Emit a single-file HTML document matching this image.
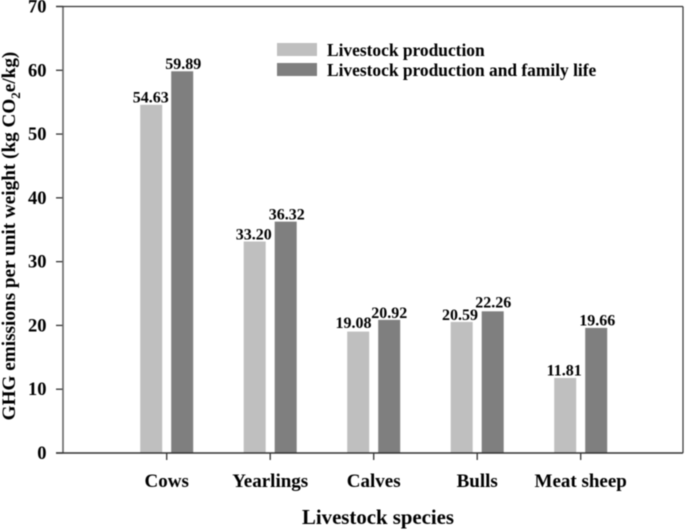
<!DOCTYPE html>
<html>
<head>
<meta charset="utf-8">
<title>GHG emissions per unit weight</title>
<style>
html,body{margin:0;padding:0;background:#fff;}
svg{display:block;filter:blur(0.4px);}
text{font-family:"Liberation Serif",serif;font-weight:bold;fill:#000;}
</style>
</head>
<body>
<svg id="chart" width="685" height="531" viewBox="0 0 685 531" xmlns="http://www.w3.org/2000/svg"></svg>
<script>
const categories = ["Cows", "Yearlings", "Calves", "Bulls", "Meat sheep"];
const productionValues = [54.63, 33.20, 19.08, 20.59, 11.81];
const familyLifeValues = [59.89, 36.32, 20.92, 22.26, 19.66];
const yTicks = [0, 10, 20, 30, 40, 50, 60, 70];
const seriesNames = ["Livestock production", "Livestock production and family life"];

const NS = "http://www.w3.org/2000/svg";
const svg = document.getElementById("chart");
const left = 63, right = 683, top_ = 6.5, bottom = 453;
const yMax = 70;
const firstCat = 166.7, catStep = 103.5;
const barW = 22, barOffset = 15.5, barTopNudge = 0.3;
const lightColor = "#bfbfbf", darkColor = "#7f7f7f";

function yScale(v) { return bottom - (v / yMax) * (bottom - top_); }
function xScale(i) { return firstCat + i * catStep; }
function make(tag, attrs, text) {
  const el = document.createElementNS(NS, tag);
  for (const k in attrs) el.setAttribute(k, attrs[k]);
  if (text !== undefined) el.textContent = text;
  svg.appendChild(el);
  return el;
}
function labelNudge(series, i) {
  if (series === 0) {
    return {dx: [-0.5, -1, -4.7, -1.7, -1][i], dy: [2.5, 2, 3.6, 2, 2.5][i]};
  }
  return {dx: [1, 1, 0, 0.6, 1][i], dy: [2.5, 2, 2, 4, 2.5][i]};
}

categories.forEach(function (c, i) {
  const key = c.toLowerCase().replace(/\s+/g, "-");
  const cx = xScale(i);
  const pv = productionValues[i], fv = familyLifeValues[i];
  const pTop = yScale(pv) + barTopNudge, fTop = yScale(fv) + barTopNudge;
  const pn = labelNudge(0, i), fn = labelNudge(1, i);

  const b1 = make("rect", {x: cx - barOffset - barW / 2, y: pTop, width: barW, height: bottom - pTop, fill: lightColor});
  
  

  const b2 = make("rect", {x: cx + barOffset - barW / 2, y: fTop, width: barW, height: bottom - fTop, fill: darkColor});
  
  

  const l1 = make("text", {x: cx - barOffset + pn.dx, y: pTop - pn.dy, "text-anchor": "middle", "font-size": 16}, pv.toFixed(2));
  
  

  const l2 = make("text", {x: cx + barOffset + fn.dx, y: fTop - fn.dy, "text-anchor": "middle", "font-size": 16}, fv.toFixed(2));
  
  

  const t = make("line", {x1: cx, x2: cx, y1: bottom, y2: bottom + 7, stroke: "#333", "stroke-width": 1.3});
  
  

  const tl = make("text", {x: cx, y: 487, "text-anchor": "middle", "font-size": 19}, c);
  
  
});

yTicks.forEach(function (v) {
  const y = yScale(v);
  const t = make("line", {x1: left - 7, x2: left, y1: y, y2: y, stroke: "#333", "stroke-width": 1.3});
  
  

  const tl = make("text", {x: 46.5, y: y + 6, "text-anchor": "end", "font-size": 18.5}, String(v));
  
  
});

const axisLeft = make("line", {x1: left, x2: left, y1: top_, y2: bottom, stroke: "#666", "stroke-width": 1.6});


const axisBottom = make("line", {x1: left - 7, x2: right, y1: bottom, y2: bottom, stroke: "#333", "stroke-width": 1.4});


const axisTop = make("line", {x1: left - 7, x2: right, y1: top_, y2: top_, stroke: "#333", "stroke-width": 1.2});


const axisRight = make("line", {x1: right, x2: right, y1: top_, y2: bottom, stroke: "#333", "stroke-width": 1.2});



const swatchColors = [lightColor, darkColor];
seriesNames.forEach(function (n, i) {
  const y = 43 + i * 20;
  const s = make("rect", {x: 277, y: y, width: 40, height: 13, fill: swatchColors[i]});
  
  
  const t = make("text", {x: 327, y: y + 13, "font-size": 17.4}, n);
  
  
});

const xTitle = make("text", {x: 378, y: 524, "text-anchor": "middle", "font-size": 20.8}, "Livestock species");



const yTitle = make("text", {transform: "translate(15,236) rotate(-90)", "text-anchor": "middle", "font-size": 19.2});


const a = document.createElementNS(NS, "tspan");
a.textContent = "GHG emissions per unit weight (kg CO";
yTitle.appendChild(a);
const sub = document.createElementNS(NS, "tspan");
sub.setAttribute("dy", "5");
sub.setAttribute("font-size", "13");
sub.textContent = "2";
yTitle.appendChild(sub);
const b = document.createElementNS(NS, "tspan");
b.setAttribute("dy", "-5");
b.textContent = "e/kg)";
yTitle.appendChild(b);
</script>
</body>
</html>
